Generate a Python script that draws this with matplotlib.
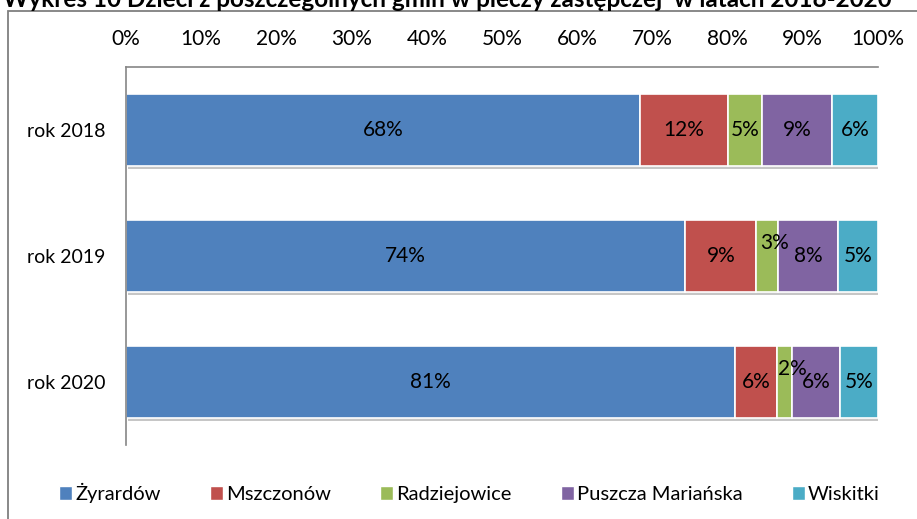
import matplotlib
matplotlib.use("Agg")
import matplotlib.pyplot as plt
import matplotlib.patheffects as pe
from matplotlib.patches import Rectangle, Patch

plt.rcParams['font.family'] = ['Lato', 'DejaVu Sans']

years = ["rok 2018", "rok 2019", "rok 2020"]
gminy = ["Żyrardów", "Mszczonów", "Radziejowice", "Puszcza Mariańska", "Wiskitki"]
zyrardow = [68.4, 74.4, 81.0]
mszczonow = [11.6, 9.4, 5.6]
radziejowice = [4.6, 2.9, 2.0]
puszcza = [9.3, 8.0, 6.3]
wiskitki = [6.1, 5.3, 5.1]
tick_labels = ["0%", "10%", "20%", "30%", "40%", "50%", "60%", "70%", "80%", "90%", "100%"]

series = [zyrardow, mszczonow, radziejowice, puszcza, wiskitki]
colors = ["#4F81BD", "#C0504D", "#9BBB59", "#8064A2", "#4BACC6"]

fig = plt.figure(figsize=(9.17, 5.19), dpi=100)
# outer chart frame (extends beyond right and bottom edges)
fig.patches.append(Rectangle((8/917, -0.05), 1.1, 1.05 - 11/519,
                             transform=fig.transFigure, fill=False,
                             edgecolor="#7f7f7f", linewidth=1.3))
fig.text(0.488, 1 - 7/519, "Wykres 10 Dzieci z poszczególnych gmin w pieczy zastępczej  w latach 2018-2020",
         ha="center", va="baseline", fontsize=17.5, fontweight="bold")

ax = fig.add_axes([126/917, 1-445/519, (878-126)/917, (445-67)/519])
ypos = list(range(len(years)))
left = [0.0] * len(years)
shadow = [pe.SimplePatchShadow(offset=(1.5, -2.5), shadow_rgbFace="#a0a0a0", alpha=0.6), pe.Normal()]
for vals, col, name in zip(series, colors, gminy):
    bars = ax.barh(ypos, vals, left=left, height=0.57, color=col,
                   edgecolor="white", linewidth=1.2, label=name, zorder=2)
    for b in bars:
        b.set_path_effects(shadow)
    for i, (v, l) in enumerate(zip(vals, left)):
        dx, dy = 0, 0
        if v < 3.5 and i > 0:
            dx, dy = 1.0, -0.1
        ax.text(l + v/2 + dx, i + dy, f"{round(v):d}%", ha="center", va="center",
                fontsize=15, color="black", zorder=3)
    left = [a + b for a, b in zip(left, vals)]

ax.set_xlim(0, 100)
ax.set_ylim(2.5, -0.5)
ax.set_yticks(ypos)
ax.set_yticklabels(years, fontsize=14)
ax.set_xticks(range(0, 101, 10))
ax.set_xticklabels(tick_labels, fontsize=15)
ax.xaxis.tick_top()
ax.tick_params(axis="x", length=0, pad=13)
ax.tick_params(axis="y", length=0, pad=15)
for s in ["right", "bottom"]:
    ax.spines[s].set_visible(False)
for s in ["top", "left"]:
    ax.spines[s].set_color("#868686")
    ax.spines[s].set_linewidth(1.2)

handles = [Patch(facecolor=c, edgecolor="white", label=n) for c, n in zip(colors, gminy)]
fig.legend(handles=handles, loc="center", bbox_to_anchor=(0.512, 1-493/519), ncol=5,
           frameon=False, fontsize=14.5, handlelength=0.65, handleheight=0.65,
           handletextpad=0.15, columnspacing=2.45)

fig.savefig("out.png", dpi=100)
